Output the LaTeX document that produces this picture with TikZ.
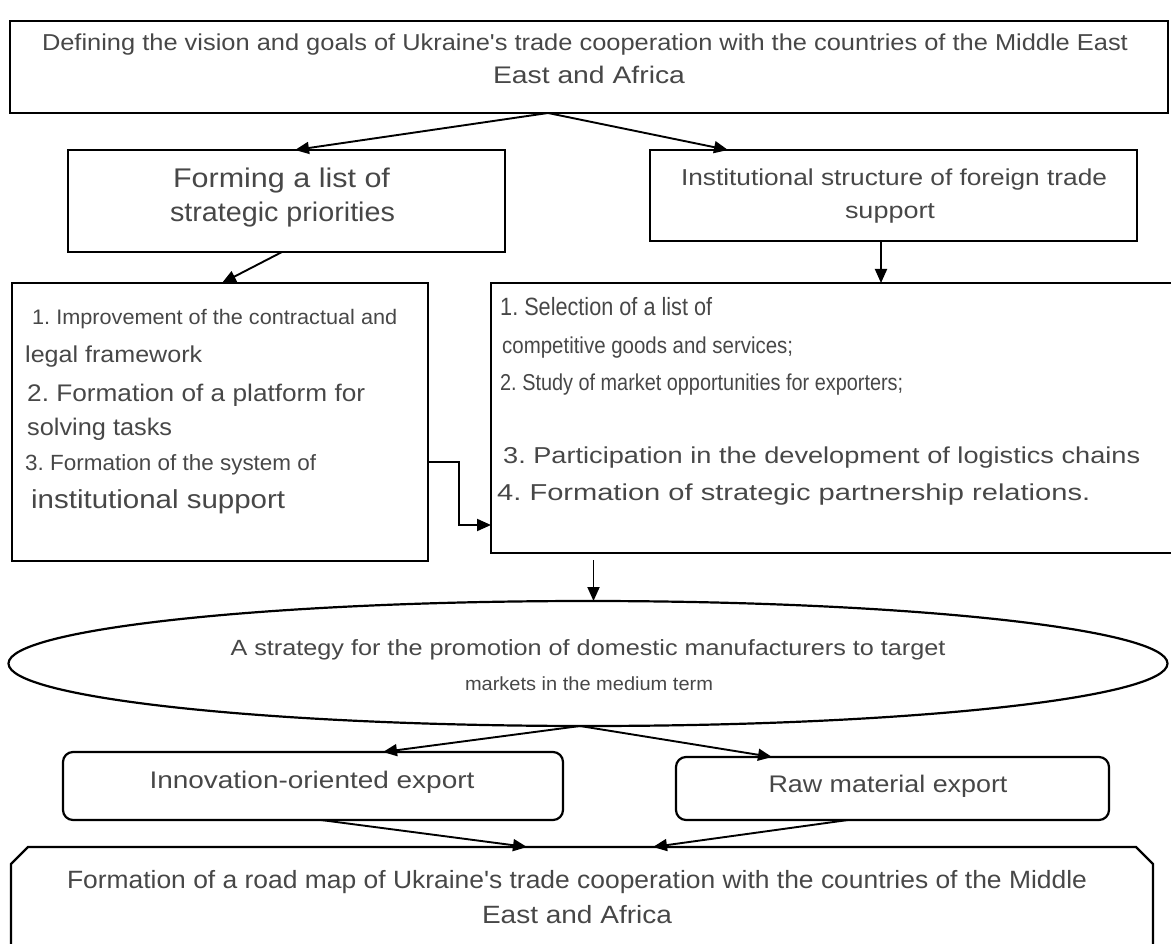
\documentclass[tikz,border=0pt]{standalone}
\usepackage{fontspec}
\setmainfont{Liberation Sans}
\usepackage{graphicx}
\usetikzlibrary{arrows.meta,shapes.geometric}
\definecolor{ink}{HTML}{474747}
\frenchspacing

% set one line of text at a given width (in pt), scaling it horizontally
\newsavebox\fitbox
\newcommand\fitline[2]{\sbox\fitbox{#2}\pgfmathsetmacro\fitfac{#1/\the\wd\fitbox}\scalebox{\fitfac}[1]{\usebox\fitbox}}
\newcommand\fsz[1]{\fontsize{#1}{#1}\selectfont}

\tikzset{
  frame/.style={draw=black, line width=2.2pt, inner sep=0pt, outer sep=0pt},
  flow/.style={draw=black, line width=1.9pt, -{Triangle[length=14pt,width=12pt]}},
  txt/.style={text=ink, inner sep=0pt, anchor=mid},
  ltxt/.style={text=ink, inner sep=0pt, anchor=mid west},
}

\begin{document}
\begin{tikzpicture}[x=1pt,y=-1pt]
\useasboundingbox (0,0) rectangle (1171,944);
\clip (0,0) rectangle (1171,944);

% boxes
\node[frame, minimum width=1158pt, minimum height=92pt] (top) at (589,67) {};
\node[frame, minimum width=437pt, minimum height=102pt] (form) at (286.5,201) {};
\node[frame, minimum width=487pt, minimum height=91pt] (inst) at (893.5,195.5) {};
\node[frame, minimum width=416pt, minimum height=278pt] (left) at (220,422) {};
\node[frame, minimum width=699pt, minimum height=270pt] (right) at (840.5,418) {};
\node[frame, ellipse, minimum width=1159pt, minimum height=125pt] (ell) at (588,663.5) {};
\node[frame, rounded corners=10pt, minimum width=500pt, minimum height=68pt] (innov) at (313,786) {};
\node[frame, rounded corners=10pt, minimum width=433pt, minimum height=63pt] (raw) at (892.5,788.5) {};
% road map box: open at the bottom, cut corners at the top
\node[inner sep=0pt, outer sep=0pt, minimum width=1142pt, minimum height=140pt] (road) at (582,917) {};
\draw[line width=2.2pt, line join=miter]
  (road.south west) -- ([yshift=-17pt]road.north west) -- ([xshift=17pt]road.north west)
  -- ([xshift=-17pt]road.north east) -- ([yshift=-17pt]road.north east) -- (road.south east);

% texts
\node[txt, font=\fsz{23}] (t1) at (585,48) {\fitline{1086}{Defining the vision and goals of Ukraine\textquotesingle s trade cooperation with the countries of the Middle East}};
\node[txt, font=\fsz{24}] (t2) at (589,81) {\fitline{192}{East and Africa}};

\node[txt, font=\fsz{27}] (f1) at (281.5,185) {\fitline{217}{Forming a list of}};
\node[txt, font=\fsz{27}] (f2) at (282.5,219) {\fitline{225}{strategic priorities}};

\node[txt, font=\fsz{23}] (i1) at (894,183) {\fitline{426}{Institutional structure of foreign trade}};
\node[txt, font=\fsz{23}] (i2) at (890,216) {\fitline{90}{support}};

\node[ltxt, font=\fsz{21}] (l1) at (32,322) {\fitline{365}{1. Improvement of the contractual and}};
\node[ltxt, font=\fsz{23}] (l2) at (25,360) {\fitline{177}{legal framework}};
\node[ltxt, font=\fsz{24}] (l3) at (27,399) {\fitline{338}{2. Formation of a platform for}};
\node[ltxt, font=\fsz{24}] (l4) at (27,433) {\fitline{145}{solving tasks}};
\node[ltxt, font=\fsz{22}] (l5) at (25,468) {\fitline{291}{3. Formation of the system of}};
\node[ltxt, font=\fsz{26}] (l6) at (31,506) {\fitline{254}{institutional support}};

\node[ltxt, font=\fsz{25}] (r1) at (500,313) {\fitline{212}{1. Selection of a list of}};
\node[ltxt, font=\fsz{23}] (r2) at (502,351) {\fitline{291}{competitive goods and services;}};
\node[ltxt, font=\fsz{23}] (r3) at (500,388) {\fitline{403}{2. Study of market opportunities for exporters;}};
\node[ltxt, font=\fsz{23}] (r4) at (503,461) {\fitline{637}{3. Participation in the development of logistics chains}};
\node[ltxt, font=\fsz{23}] (r5) at (497,498) {\fitline{593}{4. Formation of strategic partnership relations.}};

\node[txt, font=\fsz{22}] (e1) at (588,653) {\fitline{715}{A strategy for the promotion of domestic manufacturers to target}};
\node[txt, font=\fsz{19}] (e2) at (589,688) {\fitline{248}{markets in the medium term}};

\node[txt, font=\fsz{24}] (n1) at (312,786) {\fitline{325}{Innovation-oriented export}};
\node[txt, font=\fsz{24}] (w1) at (888,790) {\fitline{239}{Raw material export}};

\node[txt, font=\fsz{25}] (b1) at (577,886) {\fitline{1020}{Formation of a road map of Ukraine\textquotesingle s trade cooperation with the countries of the Middle}};
\node[txt, font=\fsz{25}] (b2) at (577,921) {\fitline{190}{East and Africa}};

% connectors
\draw[flow] ([xshift=-41pt]top.south) -- ([xshift=8.5pt]form.north);
\draw[flow] ([xshift=-41pt]top.south) -- ([xshift=-165.5pt]inst.north);
\draw[flow] ([xshift=-4.5pt]form.south) -- ([xshift=2pt]left.north);
\draw[flow] ([xshift=-12.5pt]inst.south) -- ([xshift=-12.5pt]inst.south |- right.north);
\draw[flow] ([yshift=-40pt]left.east) -- ++(31,0) |- ([yshift=-107pt]right.west);
\coordinate (rs) at ([xshift=-247pt,yshift=-7pt]right.south);
\draw[flow] (rs) -- (rs |- ell.north);
\draw[flow] ([xshift=-8pt]ell.south) -- ([xshift=70pt]innov.north);
\draw[flow] ([xshift=-8pt]ell.south) -- ([xshift=-120.5pt]raw.north);
\draw[flow] ([xshift=8pt]innov.south) -- ([xshift=-55pt]road.north);
\draw[flow] ([xshift=-44.5pt]raw.south) -- ([xshift=71pt]road.north);
\end{tikzpicture}
\end{document}
